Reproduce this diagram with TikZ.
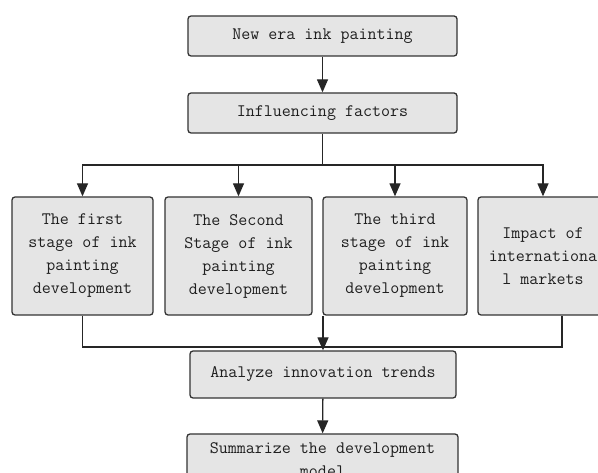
\documentclass[tikz,border=0pt]{standalone}
\usetikzlibrary{arrows.meta}
\begin{document}
\begin{tikzpicture}[x=1pt,y=-1pt,
    box/.style={draw=black!80,line width=1.3pt,fill=black!10,rounded corners=3pt,
      text=black!88,align=center,inner sep=0pt,
      font=\ttfamily\fontsize{17.5}{23}\selectfont},
    ln/.style={line width=1.3pt,draw=black!85},
    arr/.style={ln,-{Triangle[length=13pt,width=11pt]}}]
  \useasboundingbox (0,0) rectangle (598,473);
  \node[box,minimum width=269pt,minimum height=40pt] (era) at (322.5,36) {New era ink painting};
  \node[box,minimum width=269pt,minimum height=40pt] (factors) at (322.5,113) {Influencing factors};
  \node[box,minimum width=141pt,minimum height=118pt] (first) at (82.5,256) {The first\\stage of ink\\painting\\development};
  \node[box,minimum width=147pt,minimum height=118pt] (second) at (238.5,256) {The Second\\Stage of ink\\painting\\development};
  \node[box,minimum width=144pt,minimum height=118pt] (third) at (395,256) {The third\\stage of ink\\painting\\development};
  \node[box,minimum width=130pt,minimum height=118pt] (fourth) at (543,256) {Impact of\\internationa\\l markets};
  \node[box,minimum width=266pt,minimum height=47pt] (trends) at (323,374.5) {Analyze innovation trends};
  \node[box,minimum width=271pt,minimum height=52pt] (model) at (322.5,460) {Summarize the development\\model};
  \coordinate (split) at (322.5,165);
  \coordinate (joinL) at (82.5,347);
  \coordinate (joinR) at (562,347);
  \draw[arr] (era) -- (factors);
  \draw[ln] (factors.south) -- (split);
  \foreach \n in {first,second,third,fourth}
    \draw[arr] (split) -| (\n.north);
  \draw[ln] (first.south) -- (joinL) -- (joinR) -- (joinR |- fourth.south);
  \draw[arr] (trends.north |- third.south) -- (trends.north);
  \draw[arr] (trends) -- (model);
\end{tikzpicture}
\end{document}
